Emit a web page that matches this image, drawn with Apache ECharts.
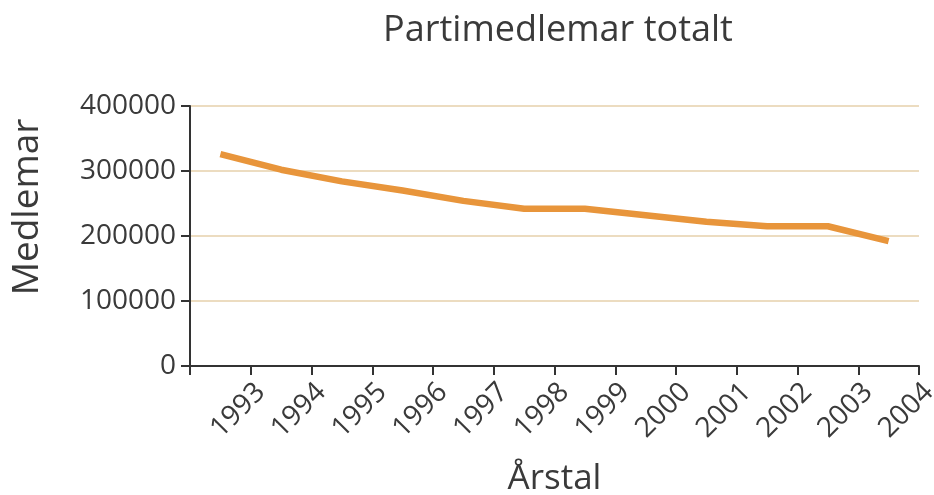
<!DOCTYPE html>
<html>
<head>
<meta charset="utf-8">
<script src="https://cdn.jsdelivr.net/npm/echarts@6/dist/echarts.min.js"></script>
<style>
html,body{margin:0;padding:0;background:#fff;}
#chart{width:934px;height:495px;}
</style>
</head>
<body>
<div id="chart"></div>
<script>
var years = ['1993','1994','1995','1996','1997','1998','1999','2000','2001','2002','2003','2004'];
var members = [326000, 302000, 284000, 270000, 254000, 242000, 242000, 232000, 222000, 215000, 215000, 192000];
var tickLabels = ['', '1993','1994','1995','1996','1997','1998','1999','2000','2001','2002','2003','2004'];
var yTicks = { min: 0, max: 400000, interval: 100000 };

var FONT = '"Open Sans", "Noto Sans", sans-serif';
var TXT = '#3a3a3a';
var chart = echarts.init(document.getElementById('chart'), null, { renderer: 'canvas' });
chart.setOption({
  animation: false,
  backgroundColor: '#ffffff',
  title: {
    text: 'Partimedlemar totalt',
    left: 553, top: 8, textAlign: 'center',
    textStyle: { fontFamily: FONT, fontSize: 36, fontWeight: 'normal', color: TXT }
  },
  grid: { left: 190, right: 15, top: 106, bottom: 129, outerBoundsMode: 'none' },
  xAxis: [
    {
      type: 'category', data: years, boundaryGap: true, show: false, position: 'bottom'
    },
    {
      type: 'category', data: tickLabels, boundaryGap: false, position: 'bottom',
      name: 'Årstal', nameLocation: 'middle', nameGap: 96,
      nameTextStyle: { fontFamily: FONT, fontSize: 35, color: TXT },
      axisLine: { show: true, lineStyle: { color: '#333', width: 2 } },
      axisTick: { show: true, length: 9, lineStyle: { color: '#333', width: 2 } },
      axisLabel: { rotate: 45, margin: 12, interval: 0, fontFamily: FONT, fontSize: 28, color: TXT,
        verticalAlign: 'top' },
      splitLine: { show: false }
    }
  ],
  yAxis: {
    type: 'value', min: yTicks.min, max: yTicks.max, interval: yTicks.interval,
    name: 'Medlemar', nameLocation: 'middle', nameGap: 144,
    nameTextStyle: { fontFamily: FONT, fontSize: 37, color: TXT, padding: [0, 0, 0, 58] },
    axisLine: { show: true, lineStyle: { color: '#333', width: 2 } },
    axisTick: { show: true, length: 9, lineStyle: { color: '#333', width: 2 } },
    axisLabel: { margin: 14, fontFamily: FONT, fontSize: 28, color: TXT,
      formatter: function (v) { return String(v); } },
    splitLine: { show: true, lineStyle: { color: '#ecdcc0', width: 2 } }
  },
  series: [{
    type: 'line', xAxisIndex: 0, data: members, showSymbol: false, symbol: 'none',
    lineStyle: { color: '#e8953b', width: 6.5, cap: 'butt', join: 'round' }
  }]
});
</script>
</body>
</html>
